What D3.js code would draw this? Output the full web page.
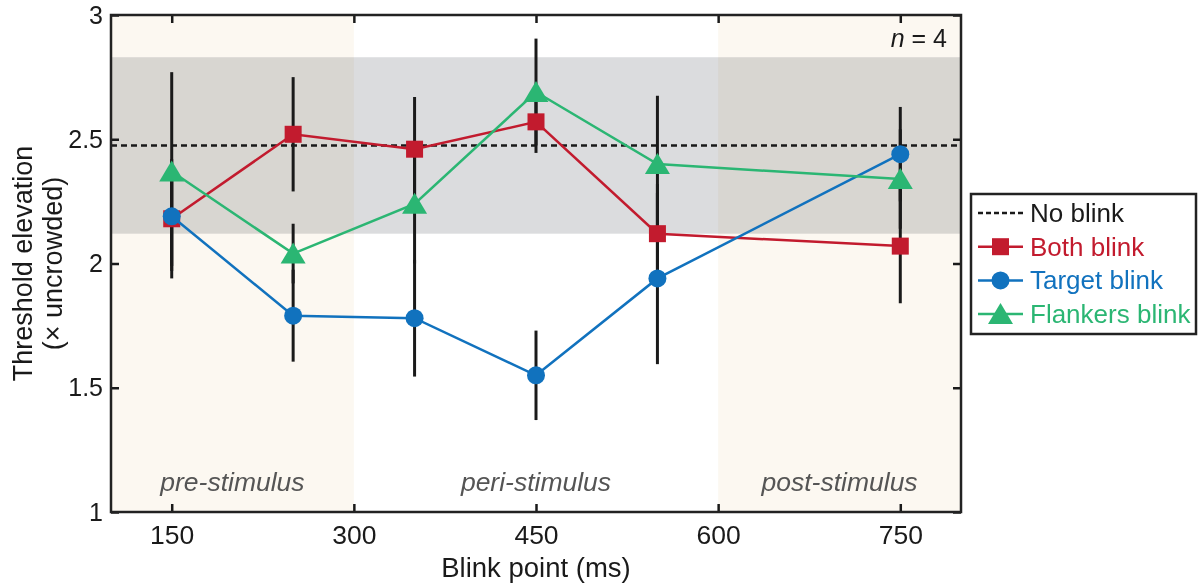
<html>

<head>
  <title>Blink point threshold elevation</title>
  <style>
    body { margin: 0; background: #fff; }
    text { font-family: "Liberation Sans", Arial, Helvetica, sans-serif; }
  </style>
</head>

<body>
  <script src="https://d3js.org/d3.v7.min.js"></script>
  <script>
    // data
    var blinkPoints = [150, 250, 350, 450, 550, 750];
    var bothBlink = [2.18, 2.52, 2.46, 2.57, 2.12, 2.07];
    var bothErr = [0.24, 0.23, 0.21, 0.125, 0.2, 0.23];
    var targetBlink = [2.19, 1.79, 1.78, 1.55, 1.94, 2.44];
    var targetErr = [0.2, 0.185, 0.235, 0.18, 0.345, 0.19];
    var flankersBlink = [2.37, 2.04, 2.24, 2.69, 2.40, 2.34];
    var flankersErr = [0.40, 0.12, 0.24, 0.215, 0.275, 0.2];
    var noBlinkMean = 2.475;
    var noBlinkRange = [2.12, 2.83];
    var periods = [
      { name: "pre-stimulus", from: 100, to: 300, shade: true },
      { name: "peri-stimulus", from: 300, to: 600, shade: false },
      { name: "post-stimulus", from: 600, to: 800, shade: true }
    ];
    var xTicks = [150, 300, 450, 600, 750];
    var yTicks = [1, 1.5, 2, 2.5, 3];

    var series = [
      { name: "Both blink", values: bothBlink, err: bothErr, color: "#c21b2e", marker: "square" },
      { name: "Target blink", values: targetBlink, err: targetErr, color: "#1172be", marker: "circle" },
      { name: "Flankers blink", values: flankersBlink, err: flankersErr, color: "#2bb673", marker: "triangle" }
    ];

    var margin = { top: 15, right: 237, bottom: 73, left: 111 };
    var width = 1198 - margin.left - margin.right;
    var height = 585 - margin.top - margin.bottom;

    var svg = d3.select("body")
      .append("svg")
      .attr("width", 1198)
      .attr("height", 585);
    var g = svg.append("g")
      .attr("transform", "translate(" + margin.left + "," + margin.top + ")");

    var x = d3.scaleLinear().domain([100, 800]).range([0, width]);
    var y = d3.scaleLinear().domain([1, 3]).range([height, 0]);

    // period shading
    g.selectAll(".period")
      .data(periods.filter(function (d) { return d.shade; }))
      .enter()
      .append("rect")
      .attr("x", function (d) { return x(d.from); })
      .attr("y", 0)
      .attr("width", function (d) { return x(d.to) - x(d.from); })
      .attr("height", height)
      .attr("fill", "#fcf8f1");

    // no blink range band
    g.append("rect")
      .attr("x", 0)
      .attr("width", width)
      .attr("y", y(noBlinkRange[1]))
      .attr("height", y(noBlinkRange[0]) - y(noBlinkRange[1]))
      .attr("fill", "#dbdcde")
      .style("mix-blend-mode", "multiply");

    g.append("line")
      .attr("x1", 0).attr("x2", width)
      .attr("y1", y(noBlinkMean)).attr("y2", y(noBlinkMean))
      .attr("stroke", "#1a1a1a")
      .attr("stroke-width", 2.5)
      .attr("stroke-dasharray", "6,4");

    // period labels
    g.selectAll(".plabel")
      .data(periods)
      .enter()
      .append("text")
      .attr("x", function (d) { return (x(d.from) + x(d.to)) / 2; })
      .attr("y", height - 21)
      .attr("text-anchor", "middle")
      .style("font-style", "italic")
      .style("font-size", "26.5px")
      .attr("fill", "#555")
      .text(function (d) { return d.name; });

    // error bars
    series.forEach(function (s) {
      g.selectAll(null)
        .data(blinkPoints)
        .enter()
        .append("line")
        .attr("x1", function (d) { return x(d); })
        .attr("x2", function (d) { return x(d); })
        .attr("y1", function (d, i) { return y(s.values[i] + s.err[i]); })
        .attr("y2", function (d, i) { return y(s.values[i] - s.err[i]); })
        .attr("stroke", "#1a1a1a")
        .attr("stroke-width", 3);
    });

    var line = d3.line()
      .x(function (d) { return x(d[0]); })
      .y(function (d) { return y(d[1]); });

    function drawMarker(sel, type, color) {
      if (type === "square") {
        sel.append("rect").attr("x", -8.5).attr("y", -8.5).attr("width", 17).attr("height", 17).attr("fill", color);
      } else if (type === "circle") {
        sel.append("circle").attr("r", 9).attr("fill", color);
      } else {
        sel.append("path").attr("d", "M0,-11L12.5,10L-12.5,10Z").attr("fill", color);
      }
    }

    series.forEach(function (s) {
      var pts = blinkPoints.map(function (d, i) { return [d, s.values[i]]; });
      g.append("path")
        .datum(pts)
        .attr("d", line)
        .attr("fill", "none")
        .attr("stroke", s.color)
        .attr("stroke-width", 2.5);
      g.selectAll(null)
        .data(pts)
        .enter()
        .append("g")
        .attr("transform", function (d) { return "translate(" + x(d[0]) + "," + y(d[1]) + ")"; })
        .each(function () { drawMarker(d3.select(this), s.marker, s.color); });
    });

    // axes: ticks inside on all four sides
    var xAxis = d3.axisBottom(x).tickValues(xTicks).tickSize(-8).tickPadding(13);
    var xTop = d3.axisTop(x).tickValues(xTicks).tickSize(-8).tickFormat("");
    var yAxis = d3.axisLeft(y).tickValues(yTicks).tickSize(-8).tickPadding(8).tickFormat(d3.format("~g"));
    var yRight = d3.axisRight(y).tickValues(yTicks).tickSize(-8).tickFormat("");

    var gx = g.append("g").attr("class", "axis").attr("transform", "translate(0," + height + ")").call(xAxis);
    g.append("g").attr("class", "axis").call(xTop);
    var gy = g.append("g").attr("class", "axis").call(yAxis);
    g.append("g").attr("class", "axis").attr("transform", "translate(" + width + ",0)").call(yRight);

    g.selectAll(".axis .domain").remove();
    g.selectAll(".axis line").attr("stroke", "#1a1a1a").attr("stroke-width", 2.5);
    g.selectAll(".axis text")
      .style("font-family", "'Liberation Sans', Arial, sans-serif")
      .attr("fill", "#1a1a1a");
    gx.selectAll("text").style("font-size", "26.5px");
    gy.selectAll("text").style("font-size", "25px");

    g.append("rect")
      .attr("x", 0).attr("y", 0)
      .attr("width", width).attr("height", height)
      .attr("fill", "none")
      .attr("stroke", "#222")
      .attr("stroke-width", 2.5);

    g.append("text")
      .attr("x", width - 14)
      .attr("y", 32)
      .attr("text-anchor", "end")
      .style("font-size", "25px")
      .attr("fill", "#1a1a1a")
      .html("<tspan font-style='italic'>n</tspan> = 4");

    // axis titles
    svg.append("text")
      .attr("x", margin.left + width / 2)
      .attr("y", 577)
      .attr("text-anchor", "middle")
      .style("font-size", "27.5px")
      .attr("fill", "#1a1a1a")
      .text("Blink point (ms)");

    var yTitle = svg.append("text")
      .attr("transform", "translate(32," + (margin.top + height / 2) + ") rotate(-90)")
      .attr("text-anchor", "middle")
      .style("font-size", "27px")
      .attr("fill", "#1a1a1a");
    yTitle.append("tspan").attr("x", 0).attr("y", 0).text("Threshold elevation");
    yTitle.append("tspan").attr("x", 0).attr("y", 30).text("(× uncrowded)");

    // legend
    var legend = svg.append("g").attr("transform", "translate(971,194)");
    legend.append("rect")
      .attr("width", 225).attr("height", 140)
      .attr("fill", "#fff")
      .attr("stroke", "#222")
      .attr("stroke-width", 2.5);

    var legendItems = [{ name: "No blink", color: "#1a1a1a", marker: null }].concat(series);
    var rows = legend.selectAll(".row")
      .data(legendItems)
      .enter()
      .append("g")
      .attr("transform", function (d, i) { return "translate(0," + (19 + i * 33.7) + ")"; });

    rows.append("line")
      .attr("x1", 7).attr("x2", 52)
      .attr("stroke", function (d) { return d.color; })
      .attr("stroke-width", 2.5)
      .attr("stroke-dasharray", function (d) { return d.marker ? null : "5,3"; });

    rows.each(function (d) {
      if (d.marker) {
        var m = d3.select(this).append("g").attr("transform", "translate(29.5,0)");
        drawMarker(m, d.marker, d.color);
      }
    });

    rows.append("text")
      .attr("x", 59)
      .attr("y", 9)
      .style("font-size", "26px")
      .attr("fill", function (d) { return d.color; })
      .text(function (d) { return d.name; });
  </script>
</body>

</html>
